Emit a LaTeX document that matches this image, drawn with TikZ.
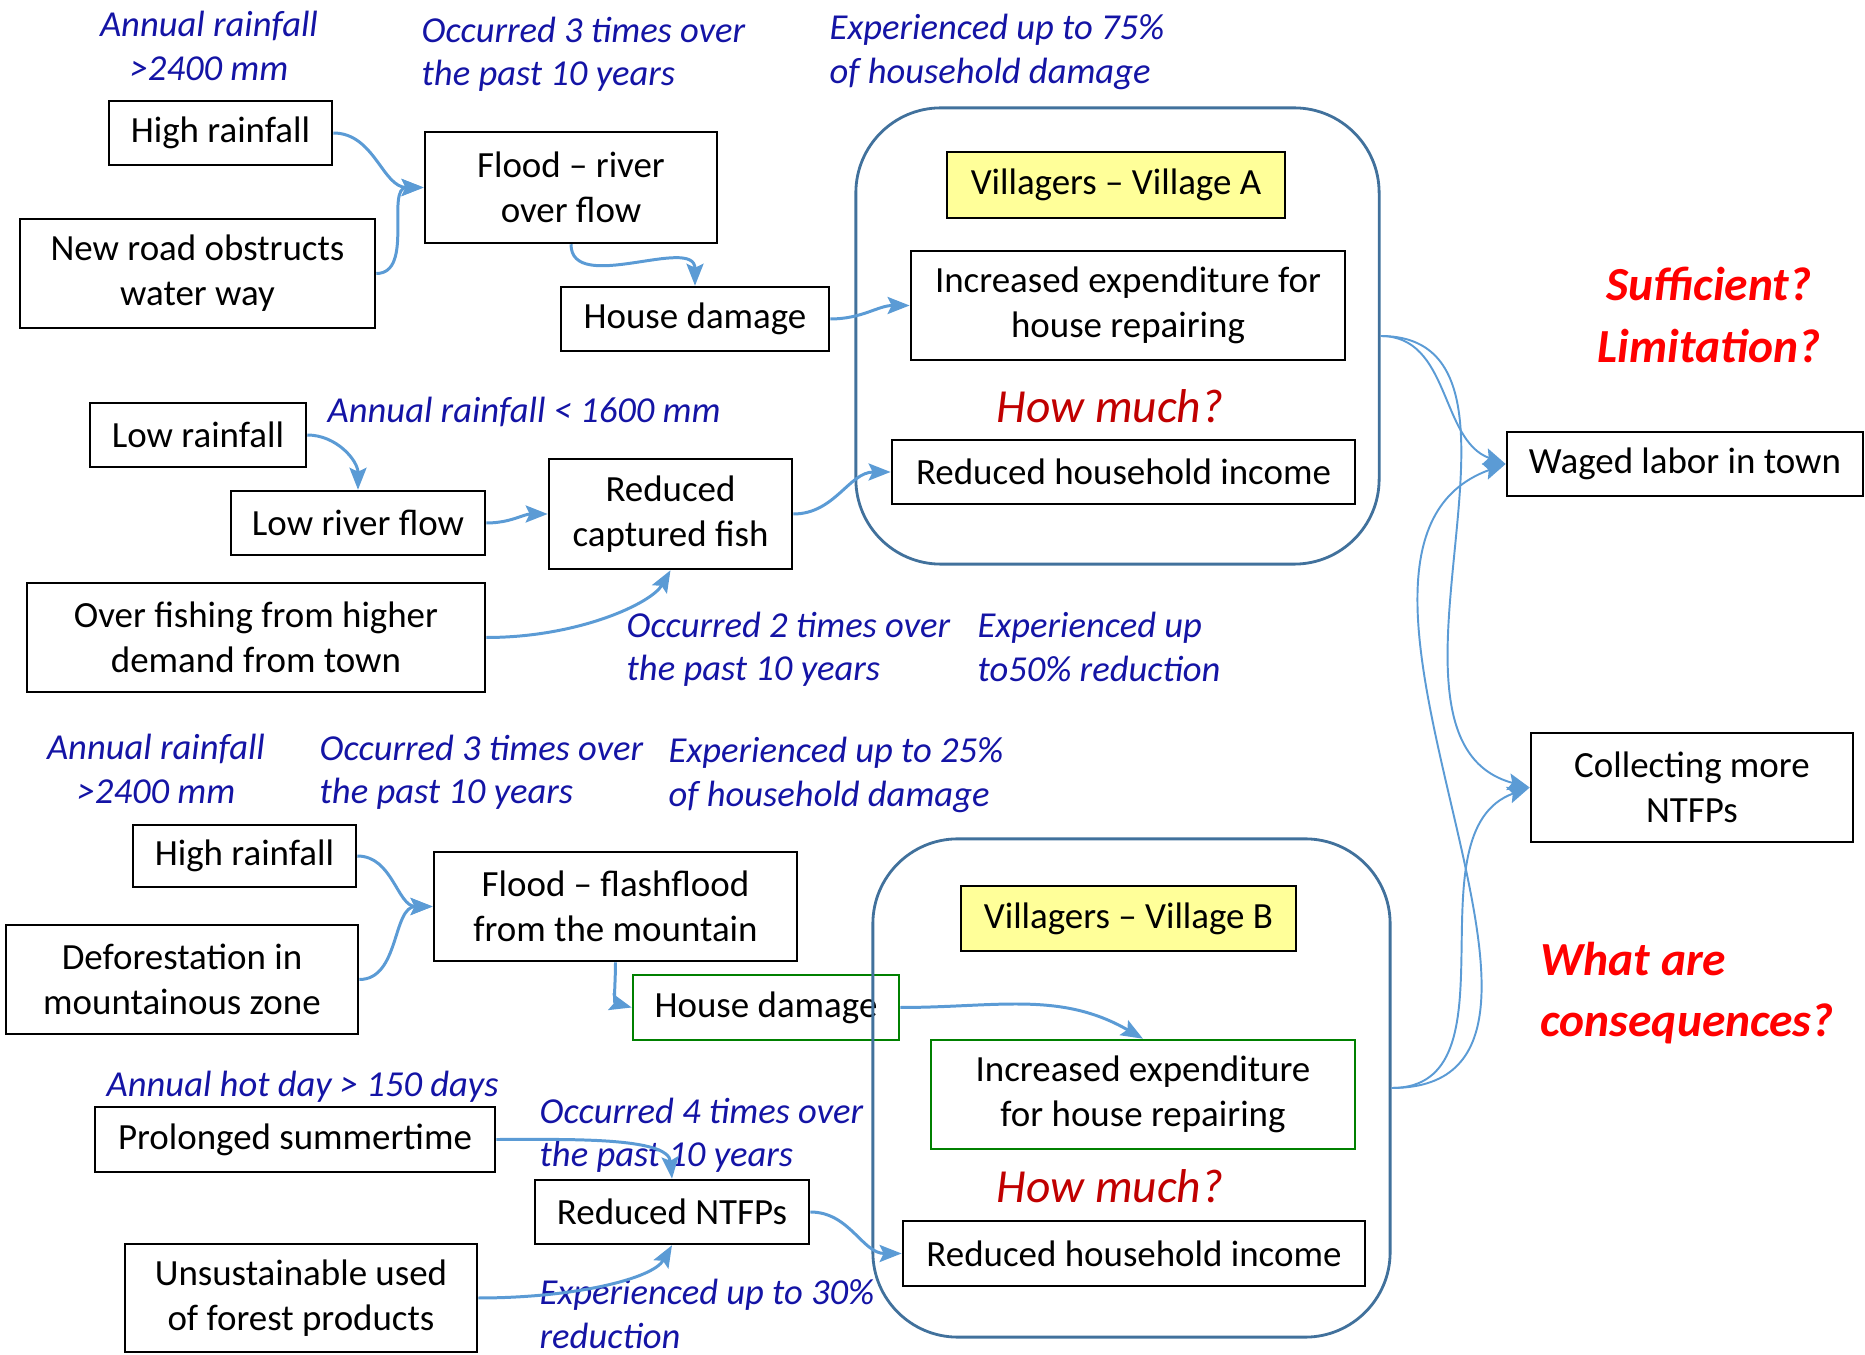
\documentclass[tikz,border=0pt]{standalone}
\usepackage{fontspec}
\setmainfont{Carlito}
\usetikzlibrary{arrows.meta}
\definecolor{arrowblue}{RGB}{91,155,213}
\definecolor{frameblue}{RGB}{65,113,156}
\definecolor{noteblue}{RGB}{20,20,165}
\definecolor{howred}{RGB}{192,0,0}
\definecolor{boxgreen}{RGB}{0,128,0}
\definecolor{vilyellow}{RGB}{255,255,153}
\begin{document}
\begin{tikzpicture}[x=0.01cm,y=-0.01cm,
  box/.style={draw,line width=0.7pt,align=center,inner sep=0pt,font=\fontsize{10.5}{12.8}\selectfont},
  vil/.style={box,fill=vilyellow},
  gbox/.style={box,draw=boxgreen},
  cont/.style={draw=frameblue,line width=0.8pt,rounded corners=0.85cm,inner sep=0pt},
  note/.style={text=noteblue,align=left,inner sep=0pt,font=\fontsize{10.4}{12.3}\selectfont\itshape},
  how/.style={text=howred,inner sep=0pt,font=\fontsize{13.5}{16}\selectfont\itshape},
  ask/.style={text=red,align=center,inner sep=0pt,font=\fontsize{13.5}{17.5}\selectfont\bfseries\itshape},
  arr/.style={draw=arrowblue,line width=0.85pt,-{Stealth[length=0.22cm,width=0.17cm,inset=0.04cm]}},
  farr/.style={arr,line width=0.55pt}]
\useasboundingbox (0,0) rectangle (1865,1355);

% Village A : inondation
\node[note,align=center] (rainA) at (209,46) {Annual rainfall\\>2400 mm};
\node[note,anchor=west] (occA) at (421,54) {Occurred 3 times over\\the past 10 years};
\node[note,anchor=west] (expnA) at (829,52) {Experienced up to 75\%\\of household damage};
\node[box,minimum width=2.23cm,minimum height=0.64cm] (hrA) at (220.5,133) {High rainfall};
\node[box,minimum width=3.55cm,minimum height=1.09cm] (roadA) at (197.5,273.5) {New road obstructs\\water way};
\node[box,minimum width=2.92cm,minimum height=1.11cm] (floodA) at (571,187.5) {Flood -- river\\over flow};
\node[box,minimum width=2.68cm,minimum height=0.64cm] (dmgA) at (695,319) {House damage};

% Village A : secheresse et peche
\node[box,minimum width=2.16cm,minimum height=0.64cm] (lowrain) at (198,435) {Low rainfall};
\node[note,anchor=west] (rainlow) at (327,412) {Annual rainfall < 1600 mm};
\node[box,minimum width=2.54cm,minimum height=0.64cm] (lowflow) at (358,523) {Low river flow};
\node[box,minimum width=2.43cm,minimum height=1.10cm] (fish) at (670.5,514) {Reduced\\captured fish};
\node[box,minimum width=4.58cm,minimum height=1.09cm] (overfish) at (256,637.5) {Over fishing from higher\\demand from town};
\node[note,anchor=west] (occfish) at (626,649) {Occurred 2 times over\\the past 10 years};
\node[note,anchor=west] (expfish) at (977,647) {Experienced up\\to50\% reduction};

% Villageois A
\node[vil,minimum width=3.38cm,minimum height=0.66cm] (vilA) at (1116,185) {Villagers -- Village A};
\node[box,minimum width=4.34cm,minimum height=1.09cm] (expA) at (1128,305.5) {Increased expenditure for\\house repairing};
\node[how] (howA) at (1110,406) {How much?};
\node[box,minimum width=4.63cm,minimum height=0.64cm] (incA) at (1123.5,472) {Reduced household income};
\node[cont,minimum width=5.23cm,minimum height=4.56cm] (contA) at (1117.5,336) {};

% Village B : crue soudaine
\node[note,align=center] (rainB) at (156,769) {Annual rainfall\\>2400 mm};
\node[note,anchor=west] (occB) at (319,772) {Occurred 3 times over\\the past 10 years};
\node[note,anchor=west] (expnB) at (668,775) {Experienced up to 25\%\\of household damage};
\node[box,minimum width=2.23cm,minimum height=0.62cm] (hrB) at (244.5,856) {High rainfall};
\node[box,minimum width=3.52cm,minimum height=1.09cm] (defor) at (182,979.5) {Deforestation in\\mountainous zone};
\node[box,minimum width=3.63cm,minimum height=1.09cm] (floodB) at (615.5,906.5) {Flood -- flashflood\\from the mountain};
\node[gbox,minimum width=2.66cm,minimum height=0.65cm] (dmgB) at (766,1007.5) {House damage};

% Village B : produits forestiers
\node[note,anchor=west] (hotday) at (106,1087) {Annual hot day > 150 days};
\node[box,minimum width=4.00cm,minimum height=0.65cm] (summer) at (295,1139.5) {Prolonged summertime};
\node[note,anchor=west] (occntfp) at (539,1135) {Occurred 4 times over\\the past 10 years};
\node[box,minimum width=2.74cm,minimum height=0.64cm] (rntfp) at (672,1212) {Reduced NTFPs};
\node[box,minimum width=3.52cm,minimum height=1.08cm] (unsus) at (301,1298) {Unsustainable used\\of forest products};
\node[note,anchor=west] (expntfp) at (539,1314) {Experienced up to 30\%\\reduction};

% Villageois B
\node[vil,minimum width=3.35cm,minimum height=0.65cm] (vilB) at (1128.5,918.5) {Villagers -- Village B};
\node[gbox,minimum width=4.24cm,minimum height=1.09cm] (expB) at (1143,1094.5) {Increased expenditure\\for house repairing};
\node[how] (howB) at (1110,1186) {How much?};
\node[box,minimum width=4.62cm,minimum height=0.65cm] (incB) at (1134,1253.5) {Reduced household income};
\node[cont,minimum width=5.17cm,minimum height=4.98cm] (contB) at (1131.5,1088) {};

% Strategies
\node[ask] (suff) at (1709,315) {Sufficient?\\Limitation?};
\node[box,minimum width=3.56cm,minimum height=0.64cm] (waged) at (1685,464) {Waged labor in town};
\node[box,minimum width=3.22cm,minimum height=1.09cm] (ntfp) at (1692,787.5) {Collecting more\\NTFPs};
\node[ask,anchor=west,align=left] (conseq) at (1540,993) {What are\\consequences?};

% Fleches
\draw[arr] (hrA.east) to[out=0,in=180] (floodA.west);
\draw[arr] (roadA.east) to[out=0,in=180] (floodA.west);
\draw[arr] (floodA.south) to[out=-90,in=90] (dmgA.north);
\draw[arr] (dmgA.east) to[out=0,in=180] (expA.west);
\draw[arr] (lowrain.east) to[out=0,in=90] (lowflow.north);
\draw[arr] (lowflow.east) to[out=0,in=180] (fish.west);
\draw[arr] (overfish.east) to[out=0,in=-120,out looseness=1.2,in looseness=0.5] (fish.south);
\draw[arr] (fish.east) to[out=0,in=180] (incA.west);
\draw[arr] (hrB.east) to[out=0,in=180] (floodB.west);
\draw[arr] (defor.east) to[out=0,in=180] (floodB.west);
\draw[arr] (floodB.south) to[out=-90,in=165] (dmgB.west);
\draw[arr] (dmgB.east) to[out=0,in=150] (expB.north);
\draw[arr] (summer.east) to[out=0,in=95,in looseness=0.6] (rntfp.north);
\draw[arr] (unsus.east) to[out=0,in=-120,out looseness=1.2,in looseness=0.5] (rntfp.south);
\draw[arr] (rntfp.east) to[out=0,in=180] (incB.west);
\draw[farr] (contA.east) to[out=0,in=160] (waged.west);
\draw[farr] (contA.east) to[out=0,in=165] (ntfp.west);
\draw[farr] (contB.east) to[out=0,in=200] (ntfp.west);
\draw[farr] (contB.east) to[out=0,in=200] (waged.west);

\end{tikzpicture}
\end{document}
